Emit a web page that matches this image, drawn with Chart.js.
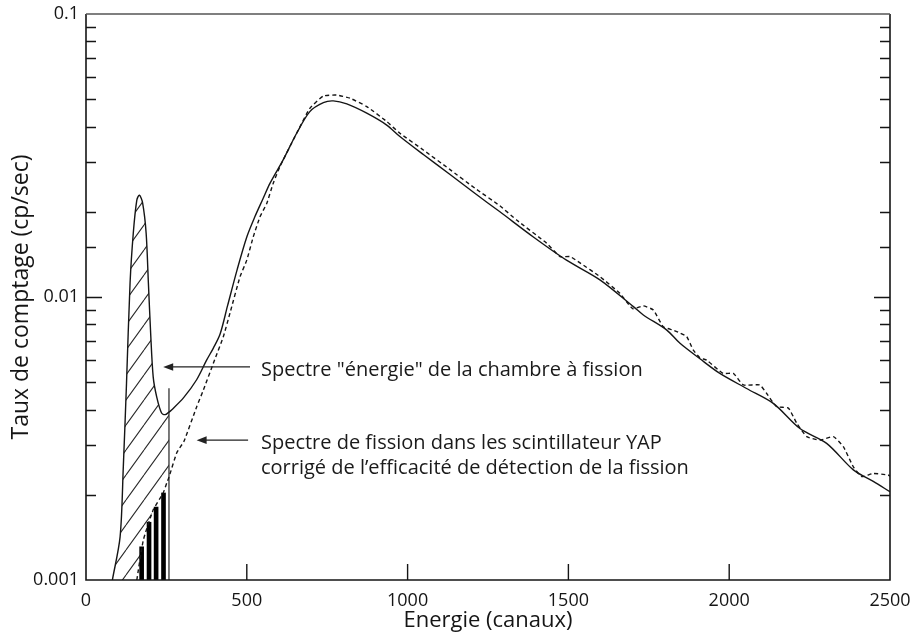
<!DOCTYPE html>
<html lang="fr">
<head>
<meta charset="utf-8">
<title>Spectres de fission</title>
<script src="https://cdn.jsdelivr.net/npm/chart.js@4.4.1/dist/chart.umd.min.js"></script>
<style>
  html, body { margin: 0; padding: 0; background: #ffffff; }
  #wrap { width: 916px; height: 636px; }
</style>
</head>
<body>
<div id="wrap"><canvas id="spectre" width="916" height="636"></canvas></div>
<script>
// Spectre "énergie" de la chambre à fission (trait plein)
const solidEnergy = [82, 106, 116, 126, 137, 147, 158, 166, 176, 187, 194, 201, 209, 220, 235, 246, 258, 266,
  303, 344, 375, 396, 417, 440, 470, 500, 525, 550, 572, 613, 655, 696, 738, 769, 811, 873, 935, 976,
  1050, 1130, 1210, 1287, 1391, 1494, 1598, 1702, 1733, 1806, 1847, 1909, 1971, 2054, 2137, 2220,
  2303, 2386, 2448, 2500];
const solidRate = [0.001, 0.00142, 0.00251, 0.00497, 0.0112, 0.0168, 0.0220, 0.0229, 0.0215, 0.0168, 0.0112,
  0.00746, 0.00521, 0.00443, 0.00389, 0.00384, 0.00392, 0.00399,
  0.0044, 0.0051, 0.00598, 0.0066, 0.0074, 0.0093, 0.0125, 0.0163, 0.0192, 0.0222, 0.0252, 0.0305, 0.0379,
  0.0452, 0.0486, 0.0493, 0.0481, 0.0446, 0.0405, 0.0369,
  0.0318, 0.0272, 0.0232, 0.0200, 0.0163, 0.0135, 0.0115, 0.00925, 0.00864, 0.00764, 0.00686,
  0.00605, 0.00537, 0.00475, 0.00421, 0.00343, 0.00304, 0.00245, 0.00223, 0.00205];

// Spectre de fission dans le scintillateur YAP, corrigé de l'efficacité (tirets)
const dashedEnergy = [158, 178, 209, 240, 251, 258, 282, 305, 344, 365, 396, 427, 448, 479, 500, 520, 541, 562,
  582, 603, 655, 696, 738, 779, 821, 873, 935, 976, 1050, 1130, 1210, 1287, 1339, 1432, 1474, 1505,
  1536, 1598, 1660, 1700, 1733, 1764, 1795, 1826, 1847, 1868, 1888, 1909, 1930, 1981, 2013, 2044,
  2095, 2116, 2147, 2184, 2210, 2241, 2282, 2324, 2355, 2386, 2412, 2448, 2494, 2500];
const dashedRate = [0.001, 0.00138, 0.00177, 0.00203, 0.0022, 0.00231, 0.00281, 0.0031, 0.00409, 0.00469,
  0.00583, 0.00724, 0.0088, 0.0118, 0.0135, 0.0163, 0.0192, 0.0214,
  0.0252, 0.0289, 0.0379, 0.0464, 0.0513, 0.0517, 0.0504, 0.0471, 0.0417, 0.0379, 0.0330, 0.0283,
  0.0242, 0.0210, 0.0187, 0.0155, 0.0139, 0.0139,
  0.0132, 0.0118, 0.0103, 0.0091, 0.0093, 0.0090, 0.00785, 0.00764, 0.00746, 0.00724, 0.0065, 0.0061,
  0.00598, 0.00537, 0.00537, 0.00489,
  0.00489, 0.00457, 0.0041, 0.00405, 0.00358, 0.00321, 0.00312, 0.00321, 0.00296, 0.00251, 0.00232,
  0.00238, 0.00235, 0.00233];

// Barres noires sous le spectre YAP, sous le seuil
const stripeEnergy = [173, 196, 218, 241];
const stripeRate = [0.00131, 0.0016, 0.00181, 0.00203];

// Seuil vertical
const cutEnergy = [258, 258];
const cutRate = [0.001, 0.00476];

// Axes
const xTickValues = [0, 500, 1000, 1500, 2000, 2500];
const yDecades = [0.001, 0.01, 0.1];
const yDecadeLabels = ['0.001', '0.01', '0.1'];

const FONT = '"Open Sans", "DejaVu Sans", sans-serif';
const INK = '#151515';

const pts = (xs, ys) => xs.map((x, i) => ({ x, y: ys[i] }));
const threshold = cutEnergy[0];

// Zone hachurée : entre le spectre de la chambre et le spectre YAP, jusqu'au seuil
const hatchUpper = pts(solidEnergy, solidRate).filter(p => p.x <= threshold);
const hatchLower = [{ x: solidEnergy[0], y: yDecades[0] }]
  .concat(pts(dashedEnergy, dashedRate).filter(p => p.x <= threshold));

function hatchPattern() {
  const w = 18, h = 25;
  const c = document.createElement('canvas');
  c.width = w; c.height = h;
  const g = c.getContext('2d');
  g.strokeStyle = '#2a2a2a';
  g.lineWidth = 1.1;
  g.beginPath();
  for (const dx of [-w, 0, w]) {
    g.moveTo(dx, h);
    g.lineTo(dx + w, 0);
  }
  g.stroke();
  return g.createPattern(c, 'repeat');
}

const notes = [
  { lines: ['Spectre "énergie" de la chambre à fission'],
    at: [544, 0.00526], from: [510, 0.00566], to: [240, 0.00566] },
  { lines: ['Spectre de fission dans les scintillateur YAP',
            'corrigé de l\u2019efficacité de détection de la fission'],
    at: [544, 0.0029], from: [504, 0.00312], to: [344, 0.00312] }
];

const isDecade = v => Math.abs(Math.log10(v) - Math.round(Math.log10(v))) < 1e-6;

const framePlugin = {
  id: 'frame',
  afterDraw(chart) {
    const { ctx, chartArea: a, scales: { x, y } } = chart;
    ctx.save();
    ctx.strokeStyle = INK;
    ctx.lineWidth = 1.6;
    ctx.beginPath();
    ctx.moveTo(a.right, a.top);
    ctx.lineTo(a.right, a.bottom);
    ctx.lineTo(a.left, a.bottom);
    ctx.lineTo(a.left, a.top);
    ctx.stroke();
    ctx.strokeStyle = '#555';
    ctx.lineWidth = 1.3;
    ctx.beginPath();
    ctx.moveTo(a.left, a.top);
    ctx.lineTo(a.right, a.top);
    ctx.stroke();
    ctx.strokeStyle = INK;
    ctx.lineWidth = 1.4;
    ctx.beginPath();
    xTickValues.forEach(v => {
      if (v <= x.min || v >= x.max) return;
      const px = x.getPixelForValue(v);
      ctx.moveTo(px, a.bottom);
      ctx.lineTo(px, a.bottom - 16);
    });
    y.ticks.forEach(t => {
      const v = t.value;
      if (v <= y.min || v >= y.max) return;
      const py = Math.round(y.getPixelForValue(v)) + 0.5;
      const len = isDecade(v) ? 16 : 10;
      ctx.moveTo(a.left, py); ctx.lineTo(a.left + len, py);
      ctx.moveTo(a.right, py); ctx.lineTo(a.right - len, py);
    });
    ctx.stroke();
    ctx.restore();
  }
};

const notesPlugin = {
  id: 'notes',
  afterDatasetsDraw(chart) {
    const { ctx, scales: { x, y } } = chart;
    ctx.save();
    ctx.lineWidth = 1.3;
    notes.forEach(n => {
      const x0 = x.getPixelForValue(n.from[0]);
      const x1 = x.getPixelForValue(n.to[0]);
      const py = y.getPixelForValue(n.from[1]);
      ctx.strokeStyle = '#222';
      ctx.fillStyle = '#222';
      ctx.beginPath();
      ctx.moveTo(x0, py);
      ctx.lineTo(x1 + 6, py);
      ctx.stroke();
      ctx.beginPath();
      ctx.moveTo(x1, py);
      ctx.lineTo(x1 + 10, py - 3.8);
      ctx.lineTo(x1 + 10, py + 3.8);
      ctx.closePath();
      ctx.fill();

      const tx = x.getPixelForValue(n.at[0]);
      const ty = y.getPixelForValue(n.at[1]);
      ctx.fillStyle = '#1a1a1a';
      ctx.font = '20px ' + FONT;
      ctx.textBaseline = 'alphabetic';
      ctx.textAlign = 'left';
      n.lines.forEach((line, i) => ctx.fillText(line, tx, ty + i * 25));
    });
    ctx.restore();
  }
};

new Chart(document.getElementById('spectre'), {
  type: 'line',
  data: {
    datasets: [
      { label: 'hachures', data: hatchUpper, fill: { target: 1 }, backgroundColor: hatchPattern(),
        borderWidth: 0, borderColor: 'rgba(0,0,0,0)', pointRadius: 0, tension: 0.3, order: 6 },
      { label: 'bord', data: hatchLower, fill: false, borderWidth: 0, borderColor: 'rgba(0,0,0,0)',
        pointRadius: 0, tension: 0.15, order: 7 },
      { type: 'bar', label: 'barres', data: stripeEnergy.map((e, i) => ({ x: e, y: [yDecades[0], stripeRate[i]] })),
        backgroundColor: '#000', borderWidth: 0, barThickness: 4, order: 5 },
      { label: 'seuil', data: pts(cutEnergy, cutRate), borderColor: '#333', borderWidth: 1.3,
        pointRadius: 0, fill: false, order: 4 },
      { label: 'YAP', data: pts(dashedEnergy, dashedRate), borderColor: INK, borderWidth: 1.4,
        borderDash: [4, 3], pointRadius: 0, fill: false, tension: 0.15, order: 2 },
      { label: 'chambre', data: pts(solidEnergy, solidRate), borderColor: INK, borderWidth: 1.4,
        pointRadius: 0, fill: false, tension: 0.3, order: 1 }
    ]
  },
  options: {
    responsive: false,
    devicePixelRatio: 1,
    animation: false,
    events: [],
    layout: { padding: { top: 14, right: 26, left: 0, bottom: 0 } },
    plugins: { legend: { display: false }, tooltip: { enabled: false } },
    scales: {
      x: {
        type: 'linear', min: 0, max: 2500, offset: false,
        afterBuildTicks: s => { s.ticks = xTickValues.map(v => ({ value: v })); },
        ticks: { color: INK, font: { family: FONT, size: 18 }, padding: 10, maxRotation: 0,
                 callback: v => String(v) },
        grid: { display: false, drawTicks: false },
        border: { display: false },
        title: { display: true, text: 'Energie (canaux)', color: INK,
                 font: { family: FONT, size: 22 }, padding: { top: 0, bottom: 2 } },
        afterFit: s => { s.height = 56; s.paddingLeft = 0; s.paddingRight = 0; }
      },
      y: {
        type: 'logarithmic', min: 0.001, max: 0.1,
        ticks: { color: INK, font: { family: FONT, size: 18 }, padding: 7, autoSkip: false,
                 callback: v => { const k = yDecades.findIndex(d => Math.abs(d - v) / d < 1e-6); return k >= 0 ? yDecadeLabels[k] : ''; } },
        grid: { display: false, drawTicks: false },
        border: { display: false },
        title: { display: true, text: 'Taux de comptage (cp/sec)', color: INK,
                 font: { family: FONT, size: 23 }, padding: { top: 8, bottom: 0 } },
        afterFit: s => { s.width = 86; s.paddingTop = 0; s.paddingBottom = 0; }
      }
    }
  },
  plugins: [framePlugin, notesPlugin]
});
</script>
</body>
</html>
